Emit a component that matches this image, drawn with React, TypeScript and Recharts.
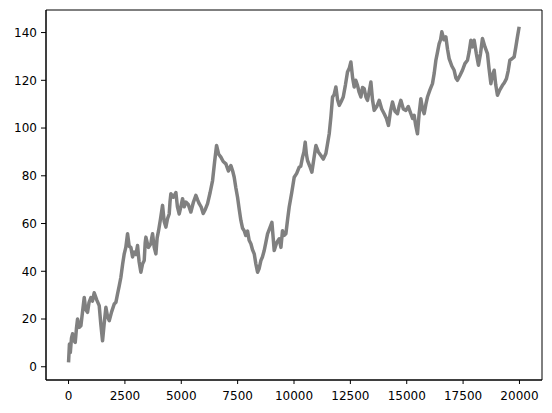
import React from "react";
import { LineChart, Line, XAxis, YAxis, ReferenceArea } from "recharts";

const steps: number[] = [
  0, 40, 80, 130, 177, 230, 297, 350, 400, 470, 548, 620, 696, 760, 843, 910, 991, 1060, 1138, 1250,
  1360, 1430, 1508, 1580, 1656, 1730, 1804, 1910, 2026, 2100, 2174, 2250, 2322, 2400, 2470, 2540, 2617, 2690, 2765, 2840,
  2913, 2990, 3060, 3130, 3208, 3280, 3356, 3400, 3430, 3540, 3652, 3690, 3726, 3800, 3874, 3930, 3993, 4080, 4170, 4240,
  4317, 4390, 4465, 4500, 4539, 4650, 4761, 4830, 4909, 4980, 5057, 5130, 5205, 5310, 5426, 5540, 5648, 5720, 5796, 5880,
  5973, 6070, 6166, 6280, 6388, 6480, 6565, 6660, 6757, 6860, 6979, 7090, 7200, 7280, 7348, 7420, 7496, 7570, 7644, 7720,
  7792, 7860, 7940, 8010, 8088, 8160, 8236, 8310, 8384, 8450, 8531, 8600, 8679, 8750, 8827, 8920, 9020, 9122, 9230, 9344,
  9420, 9490, 9560, 9640, 9720, 9787, 9900, 10009, 10120, 10231, 10300, 10379, 10440, 10497, 10550, 10600, 10700, 10793, 10880, 10971,
  11080, 11193, 11300, 11414, 11480, 11562, 11640, 11710, 11780, 11858, 11930, 12006, 12090, 12183, 12280, 12373, 12450, 12523, 12600, 12670,
  12740, 12816, 12890, 12967, 13040, 13113, 13190, 13259, 13330, 13410, 13480, 13557, 13670, 13779, 13890, 14000, 14100, 14190, 14280, 14368,
  14480, 14590, 14660, 14740, 14850, 14962, 15070, 15184, 15260, 15330, 15400, 15477, 15550, 15627, 15700, 15774, 15850, 15920, 16030, 16142,
  16220, 16293, 16370, 16439, 16500, 16558, 16650, 16736, 16810, 16882, 17000, 17104, 17180, 17250, 17360, 17472, 17580, 17694, 17770, 17845,
  17920, 17991, 18090, 18182, 18270, 18359, 18470, 18581, 18650, 18732, 18800, 18878, 18950, 19024, 19130, 19246, 19330, 19423, 19500, 19574,
  19670, 19765, 19840, 19911, 19987,
];

const walk: number[] = [
  1.8, 9.5, 6, 12, 13.8, 11, 10.2, 16, 20, 16.5, 17.2, 23, 29, 24, 22.8, 27, 29, 27.5, 31, 28,
  25.6, 18, 10.9, 18, 24.9, 21, 19.3, 23, 26.3, 27, 30.5, 34, 37.5, 43, 47.3, 50, 55.7, 50.5, 50, 46,
  48, 47, 50.8, 44, 39.6, 43, 44.5, 52, 54.3, 50, 51.5, 54, 55.7, 50, 47.3, 54, 57, 62, 67.6, 61,
  58.5, 62, 64, 69, 72.5, 71, 73, 67, 64, 67, 70.4, 67, 69, 68, 64.8, 69, 71.8, 70, 68.3, 67,
  64.2, 66, 68.3, 73, 78, 86, 92.7, 89, 87.8, 86, 85, 82, 84.3, 82, 79.4, 75, 71, 66, 61.3, 58,
  57, 55, 56.8, 53, 51.5, 49, 47.3, 43, 39.6, 41, 44.5, 46, 48.7, 52, 55.7, 58, 60.5, 48.7, 52, 53.6,
  50, 57, 55, 55.7, 62, 66.9, 73, 79.4, 81, 83.6, 84, 87.8, 90, 94.1, 89, 86.4, 84, 81.5, 87, 92.7,
  90, 88.5, 87, 89.3, 93, 97.6, 105, 113, 114, 117.2, 112, 109.5, 111, 113, 118, 123.5, 125, 127.7, 121, 117.2,
  120, 117.9, 115, 113, 117, 116.5, 113, 111.6, 115, 119.3, 112, 107.4, 109, 111.6, 108, 106, 104, 101.1, 107, 110.9,
  107, 106, 109, 111.6, 108, 107.4, 109, 106, 104, 105.3, 101, 97.6, 106, 112.3, 108, 106, 110, 113, 116, 118.6,
  123, 128.4, 132, 135.4, 137, 140.3, 137, 138.2, 133, 129.1, 126, 124.2, 121, 120, 122, 124.2, 127, 128.4, 132, 136.8,
  134, 136.8, 131, 126.3, 131, 137.5, 134, 131.2, 125, 118.6, 122, 124.2, 118, 113.7, 116, 117.9, 119, 120.7, 124, 128.4,
  129, 129.8, 134, 138.2, 142.4,
];

const xTicks: number[] = [0, 2500, 5000, 7500, 10000, 12500, 15000, 17500, 20000];
const yTicks: number[] = [0, 20, 40, 60, 80, 100, 120, 140];

const data = steps.map((s, i) => ({ x: s, y: walk[i] }));

const tickStyle = { fill: "#000", fontSize: 12, fontFamily: "DejaVu Sans" };
const X_DOMAIN: [number, number] = [-1000, 21000];
const Y_DOMAIN: [number, number] = [-5.55, 149.45];

export default function App() {
  return (
    <div style={{ position: "absolute", left: 0, top: 0 }}>
      <LineChart width={552} height={413} data={data} margin={{ top: 10, right: 10, bottom: 0, left: 0 }}>
        <XAxis
          dataKey="x"
          type="number"
          domain={X_DOMAIN}
          ticks={xTicks}
          allowDataOverflow
          height={33}
          tickSize={4}
          tickMargin={7}
          tick={tickStyle}
          axisLine={{ stroke: "#000" }}
          tickLine={{ stroke: "#000" }}
        />
        <YAxis
          type="number"
          domain={Y_DOMAIN}
          ticks={yTicks}
          allowDataOverflow
          width={46}
          tickSize={5}
          tickMargin={4}
          tick={tickStyle}
          axisLine={{ stroke: "#000" }}
          tickLine={{ stroke: "#000" }}
        />
        <Line
          dataKey="y"
          type="linear"
          stroke="#808080"
          strokeWidth={3.5}
          strokeLinejoin="round"
          dot={false}
          isAnimationActive={false}
        />
        <ReferenceArea
          x1={X_DOMAIN[0]}
          x2={X_DOMAIN[1]}
          y1={Y_DOMAIN[0]}
          y2={Y_DOMAIN[1]}
          fill="none"
          fillOpacity={0}
          stroke="#000"
          strokeWidth={1}
          ifOverflow="visible"
        />
      </LineChart>
    </div>
  );
}
